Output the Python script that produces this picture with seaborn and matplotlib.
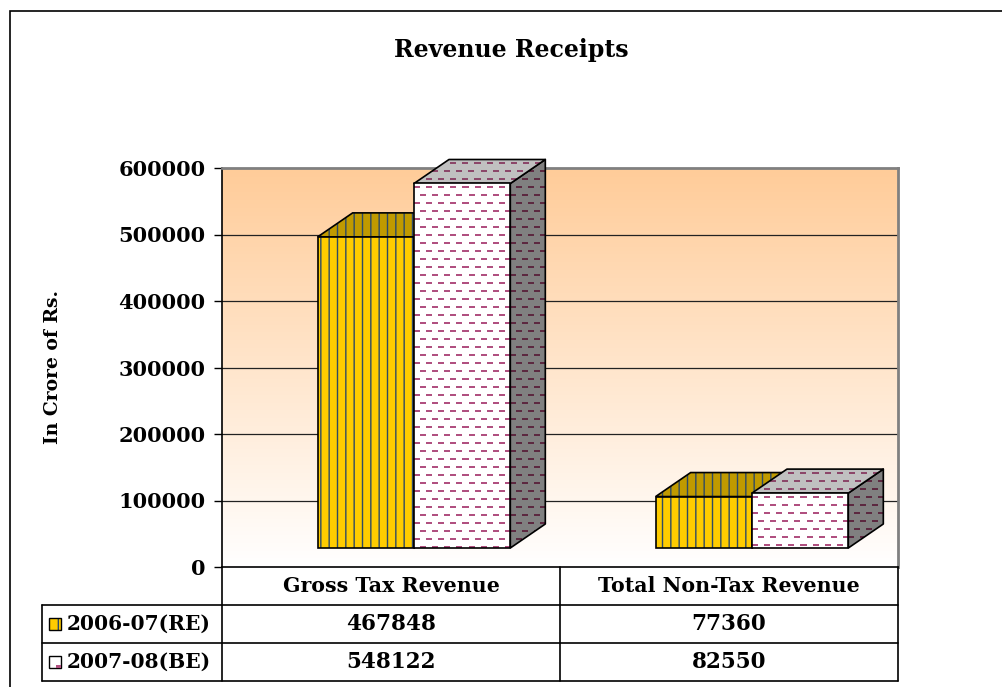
import numpy as np
import pandas as pd
import matplotlib
matplotlib.use("Agg")
import matplotlib.pyplot as plt
from matplotlib.patches import Polygon, Rectangle
from matplotlib.lines import Line2D
import seaborn as sns

# data
categories = ["Gross Tax Revenue", "Total Non-Tax Revenue"]
years = ["2006-07(RE)", "2007-08(BE)"]
re_2006_07 = [467848, 77360]
be_2007_08 = [548122, 82550]
y_ticks = [0, 100000, 200000, 300000, 400000, 500000, 600000]

df = pd.DataFrame({
    "category": categories * 2,
    "year": [years[0]] * 2 + [years[1]] * 2,
    "value": re_2006_07 + be_2007_08,
})

sns.set_theme(style="white")
plt.rcParams["font.family"] = ["DejaVu Serif"]
plt.rcParams["font.weight"] = "bold"
for key in ["text.color", "axes.labelcolor", "xtick.color", "ytick.color"]:
    plt.rcParams[key] = "black"

W, H = 1002, 687
fig = plt.figure(figsize=(W / 100, H / 100), dpi=100)


def fx(px):
    return px / W


def fy(py):
    return 1 - py / H


ax_l, ax_r, ax_t, ax_b = 222, 898, 168, 567
ax = fig.add_axes([fx(ax_l), fy(ax_b), fx(ax_r - ax_l), (ax_b - ax_t) / H])
ax.set_xlim(-0.568, 1.432)
ax.set_ylim(0, 600000)

# px -> data scale
sx = 2.0 / (ax_r - ax_l)
sy = 600000 / (ax_b - ax_t)
floor = 19 * sy          # front face base above the 0 line
dx, dy = 35 * sx, 24 * sy  # 3d depth offset

# gradient back wall
grad = np.linspace(0, 1, 256)[:, None]
top_c = np.array([255, 204, 153]) / 255
bot_c = np.array([255, 255, 255]) / 255
img = top_c * (1 - grad[..., None]) + bot_c * grad[..., None]
ax.imshow(img, extent=[-0.568, 1.432, 0, 600000], aspect="auto",
          origin="upper", zorder=0)

for v in y_ticks[1:-1]:
    ax.axhline(v, color="#222222", lw=0.9, zorder=0.5)

sns.barplot(data=df, x="category", y="value", hue="year", width=0.57,
            bottom=floor, palette=["#FFCC00", "#FFFFFF"], legend=False,
            edgecolor="none", linewidth=0, ax=ax, zorder=2)
ax.set_xlim(-0.568, 1.432)
ax.set_ylim(0, 600000)


def dash_texture(wpx, hpx, bg, fg):
    arr = np.zeros((hpx, wpx, 4))
    arr[..., :3] = bg
    arr[..., 3] = 1
    for r in range(hpx):
        if r % 8 in (3, 4):
            off = 0 if (r // 8) % 2 == 0 else 6
            for c in range(wpx):
                if (c + off) % 12 < 6:
                    arr[r, c, :3] = fg
    return arr


def add_textured(poly_pts, bg, fg, z):
    pts = np.array(poly_pts)
    x0, x1 = pts[:, 0].min(), pts[:, 0].max()
    y0, y1 = pts[:, 1].min(), pts[:, 1].max()
    wpx = max(int(round((x1 - x0) / sx)), 1)
    hpx = max(int(round((y1 - y0) / sy)), 1)
    tex = dash_texture(wpx, hpx, bg, fg)
    im = ax.imshow(tex, extent=[x0, x1, y0, y1], aspect="auto",
                   origin="upper", interpolation="nearest", zorder=z)
    clip = Polygon(pts, closed=True, transform=ax.transData, fill=False, lw=0)
    im.set_clip_path(clip)
    im.set_clip_box(fig.bbox)
    ax.add_patch(Polygon(pts, closed=True, fill=False, edgecolor="black",
                         lw=1.2, zorder=z + 0.1, joinstyle="round", clip_on=False))


z = 2
stripe = "#2E4A66"
for cat_i in range(2):
    for hue_i, cont in enumerate(ax.containers):
        bar = cont.patches[cat_i]
        x, w = bar.get_x(), bar.get_width()
        b, h = bar.get_y(), bar.get_height()
        front = [(x, b), (x + w, b), (x + w, b + h), (x, b + h)]
        top = [(x, b + h), (x + w, b + h), (x + w + dx, b + h + dy), (x + dx, b + h + dy)]
        side = [(x + w, b), (x + w + dx, b + dy), (x + w + dx, b + h + dy), (x + w, b + h)]
        bar.set_visible(False)
        if hue_i == 0:
            for pts, col in [(side, "#B89400"), (top, "#C09A00"), (front, "#FFCC00")]:
                ax.add_patch(Polygon(pts, closed=True, facecolor=col, edgecolor=stripe,
                                     hatch="||", lw=0, zorder=z, clip_on=False))
                ax.add_patch(Polygon(pts, closed=True, fill=False, edgecolor="black",
                                     lw=1.2, zorder=z + 0.1, clip_on=False))
                z += 0.2
        else:
            add_textured(side, np.array([128, 128, 128]) / 255,
                         np.array([92, 40, 64]) / 255, z)
            z += 0.2
            add_textured(top, np.array([192, 192, 192]) / 255,
                         np.array([140, 70, 105]) / 255, z)
            z += 0.2
            add_textured(front, np.array([255, 255, 255]) / 255,
                         np.array([176, 80, 128]) / 255, z)
            z += 0.2

ax.set_xlim(-0.568, 1.432)
ax.set_ylim(0, 600000)

# axes styling
ax.set_xticks([])
ax.set_yticks(y_ticks)
ax.set_yticklabels([str(v) for v in y_ticks], fontsize=15, fontweight="bold")
ax.tick_params(axis="y", length=6, width=1, color="black", pad=6, left=True)
ax.set_xlabel("")
ax.set_ylabel("In Crore of Rs.", fontsize=13.5, fontweight="bold")
ax.yaxis.set_label_coords(-0.237, 0.5)
for s in ["top", "right"]:
    ax.spines[s].set_color("#808080")
    ax.spines[s].set_linewidth(2)
for s in ["left", "bottom"]:
    ax.spines[s].set_color("black")
    ax.spines[s].set_linewidth(1.2)

# title
fig.text(fx(511), fy(50), "Revenue Receipts", ha="center", va="center",
         fontsize=17, fontweight="bold")

# data table
lw = 1.2
col_x = [ax_l, 560, ax_r]
row_y = [567, 605, 643, 681]
for xx in col_x:
    fig.add_artist(Line2D([fx(xx), fx(xx)], [fy(567), fy(681)], color="black", lw=lw))
fig.add_artist(Line2D([fx(42), fx(42)], [fy(605), fy(681)], color="black", lw=lw))
for yy in row_y[1:]:
    fig.add_artist(Line2D([fx(42), fx(ax_r)], [fy(yy), fy(yy)], color="black", lw=lw))

centers = [(col_x[0] + col_x[1]) / 2, (col_x[1] + col_x[2]) / 2]
for i, cat in enumerate(categories):
    fig.text(fx(centers[i]), fy(586), cat, ha="center", va="center",
             fontsize=14.8, fontweight="bold")
for r, vals in enumerate([re_2006_07, be_2007_08]):
    yc = (row_y[r + 1] + row_y[r + 2]) / 2
    for i, v in enumerate(vals):
        fig.text(fx(centers[i]), fy(yc), str(v), ha="center", va="center",
                 fontsize=15.5, fontweight="bold")
    fig.text(fx(67), fy(yc), years[r], ha="left", va="center",
             fontsize=14.5, fontweight="bold")

# legend keys in table
k = 12
fig.add_artist(Rectangle((fx(49), fy(630)), fx(k), k / H, facecolor="#FFCC00",
                         edgecolor=stripe, hatch="|", lw=0))
fig.add_artist(Rectangle((fx(49), fy(630)), fx(k), k / H, fill=False,
                         edgecolor="black", lw=1))
fig.add_artist(Rectangle((fx(49), fy(668)), fx(k), k / H, facecolor="white",
                         edgecolor="black", lw=1))
fig.add_artist(Rectangle((fx(56), fy(668)), fx(5), 3 / H, facecolor="#B05080",
                         edgecolor="none", lw=0))

# outer border (right and bottom edges fall outside the image)
fig.add_artist(Rectangle((fx(10), fy(700)), fx(1000), 689 / H, fill=False,
                         edgecolor="black", lw=1.2))

fig.savefig("out.png", dpi=100)
